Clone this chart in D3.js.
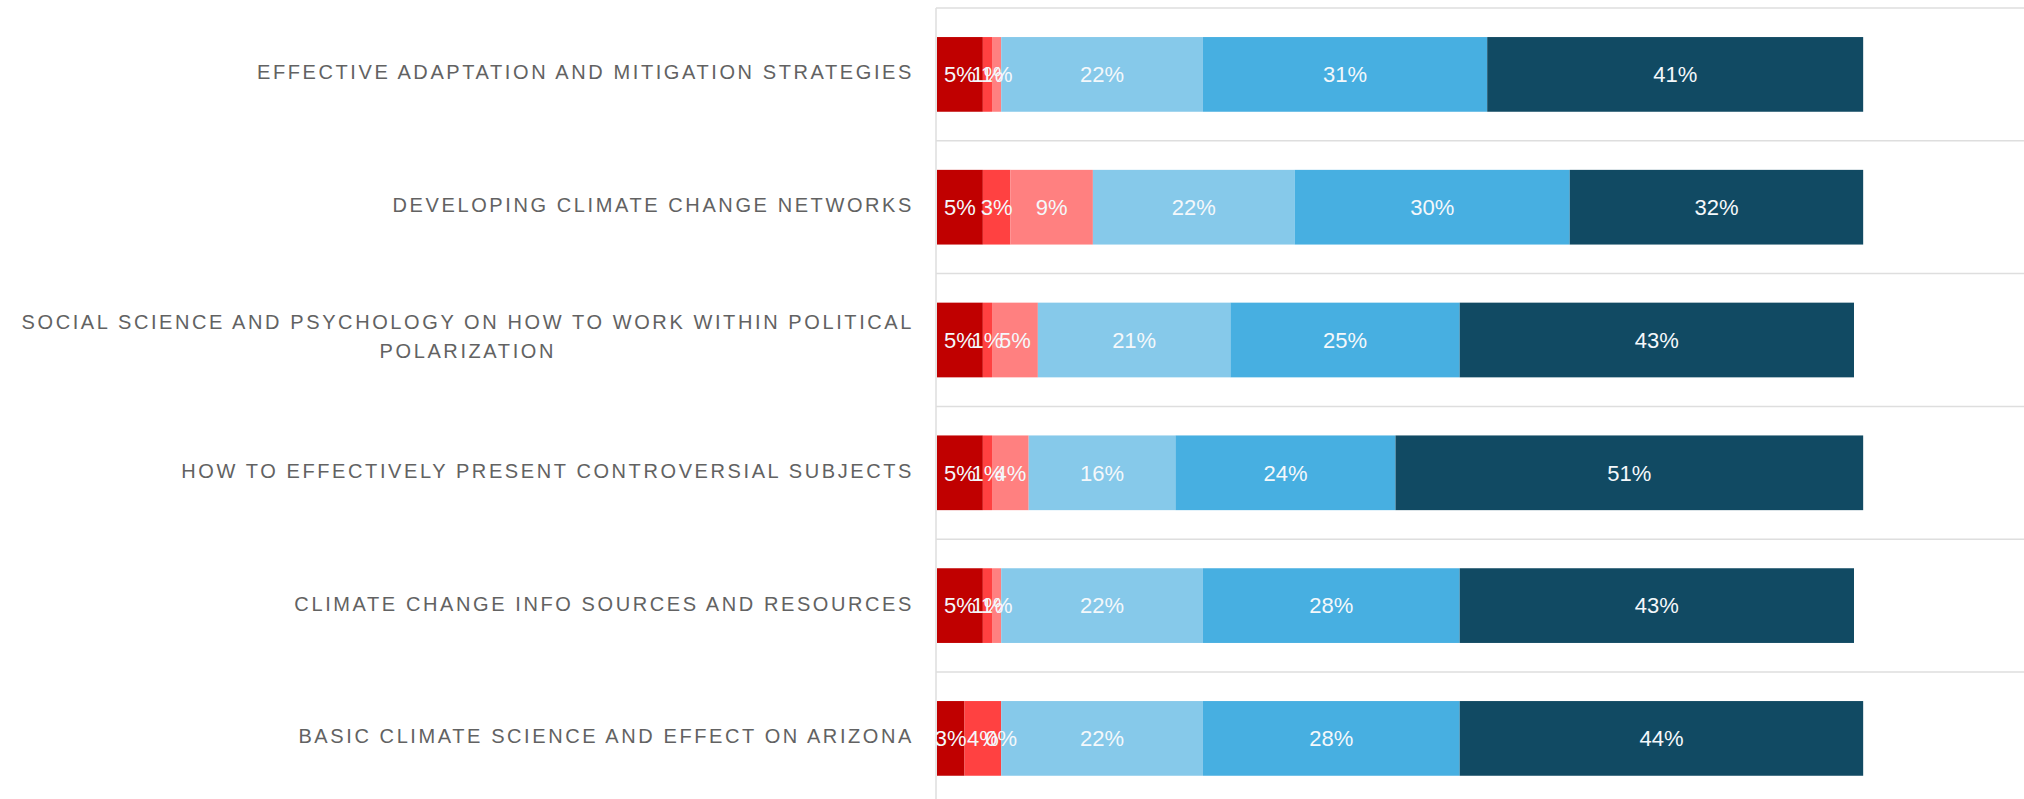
<!DOCTYPE html>
<html>
<head>
<meta charset="utf-8">
<script src="https://cdn.jsdelivr.net/npm/d3@7"></script>
<style>
  html, body { margin: 0; padding: 0; background: #fff; }
  svg { display: block; }
</style>
</head>
<body>
<div id="chart"></div>
<script>
// categories, top to bottom
const categories = [
  "EFFECTIVE ADAPTATION AND MITIGATION STRATEGIES",
  "DEVELOPING CLIMATE CHANGE NETWORKS",
  "SOCIAL SCIENCE AND PSYCHOLOGY ON HOW TO WORK WITHIN POLITICAL POLARIZATION",
  "HOW TO EFFECTIVELY PRESENT CONTROVERSIAL SUBJECTS",
  "CLIMATE CHANGE INFO SOURCES AND RESOURCES",
  "BASIC CLIMATE SCIENCE AND EFFECT ON ARIZONA",
];

// series values (percent), one array per response level
const seriesNames = ["level1", "level2", "level3", "level4", "level5", "level6"];
const level1 = [5, 5, 5, 5, 5, 3];
const level2 = [1, 3, 1, 1, 1, 4];
const level3 = [1, 9, 5, 4, 1, 0];
const level4 = [22, 22, 21, 16, 22, 22];
const level5 = [31, 30, 25, 24, 28, 28];
const level6 = [41, 32, 43, 51, 43, 44];

const colors = ["#c00000", "#ff4141", "#ff8080", "#86c9ea", "#47afe1", "#114a63"];

const width = 2024;
const height = 799;

// build rows for the stack
const levels = [level1, level2, level3, level4, level5, level6];
const rows = categories.map((c, i) => {
  const row = { category: c };
  seriesNames.forEach((s, j) => (row[s] = levels[j][i]));
  return row;
});

const stack = d3.stack().keys(seriesNames);
const stacked = stack(rows);

const svg = d3
  .select("#chart")
  .append("svg")
  .attr("width", width)
  .attr("height", height);

// scales
const plotLeft = 937;
const plotTop = 8;
const rowStep = 132.8;

const x = d3.scaleLinear().domain([0, 100]).range([plotLeft, plotLeft + 917]);

const rowScale = d3
  .scaleBand()
  .domain(categories)
  .range([plotTop, plotTop + rowStep * categories.length]);

const y = d3
  .scaleBand()
  .domain(categories)
  .range([plotTop, plotTop + rowStep * categories.length])
  .paddingInner(0.4375)
  .paddingOuter(0.21875);

// gridlines at row boundaries
const gridYs = categories.map((c) => rowScale(c)).concat([rowScale.range()[1]]);
svg
  .append("g")
  .selectAll("line")
  .data(gridYs)
  .enter()
  .append("line")
  .attr("x1", plotLeft - 1)
  .attr("x2", width)
  .attr("y1", (d) => d)
  .attr("y2", (d) => d)
  .attr("stroke", "#dedede")
  .attr("stroke-width", 1.5);

// left axis line
svg
  .append("line")
  .attr("x1", plotLeft - 1)
  .attr("x2", plotLeft - 1)
  .attr("y1", plotTop)
  .attr("y2", height)
  .attr("stroke", "#dedede")
  .attr("stroke-width", 1.5);

// bars
const layers = svg
  .append("g")
  .selectAll("g")
  .data(stacked)
  .enter()
  .append("g")
  .attr("fill", (d, i) => colors[i]);

layers
  .selectAll("rect")
  .data((d) => d)
  .enter()
  .append("rect")
  .attr("x", (d) => x(d[0]))
  .attr("y", (d) => y(d.data.category))
  .attr("width", (d) => x(d[1]) - x(d[0]))
  .attr("height", y.bandwidth());

// value labels, drawn after every bar (small ones overlap like the original)
const labelG = svg.append("g");
stacked.forEach((layer) => {
  labelG
    .selectAll(null)
    .data(layer)
    .enter()
    .append("text")
    .attr("x", (d) => (x(d[0]) + x(d[1])) / 2)
    .attr("y", (d) => y(d.data.category) + y.bandwidth() / 2)
    .attr("dy", "0.35em")
    .attr("text-anchor", "middle")
    .style("font-family", "'Liberation Sans', Arial, sans-serif")
    .style("font-size", "22px")
    .style("fill", "#f4f8fb")
    .text((d) => `${d[1] - d[0]}%`);
});

// category labels, wrapped and right aligned as a block
const labelRight = 914;
const maxLabelWidth = 940;
const lineHeight = 29;
const labelFont = "20px";
const labelSpacing = "2.6px";

categories.forEach((c) => {
  const g = svg.append("g");
  const probe = g
    .append("text")
    .style("font-family", "'Liberation Sans', Arial, sans-serif")
    .style("font-size", labelFont)
    .style("letter-spacing", labelSpacing);

  // greedy word wrap
  const words = c.split(" ");
  const lines = [];
  let current = [];
  words.forEach((w) => {
    probe.text(current.concat(w).join(" "));
    if (current.length && probe.node().getComputedTextLength() > maxLabelWidth) {
      lines.push(current.join(" "));
      current = [w];
    } else {
      current.push(w);
    }
  });
  lines.push(current.join(" "));

  const widths = lines.map((l) => {
    probe.text(l);
    return probe.node().getComputedTextLength();
  });
  probe.remove();

  const blockWidth = d3.max(widths);
  const cy = rowScale(c) + rowScale.bandwidth() / 2 - 2;

  g.selectAll("text")
    .data(lines)
    .enter()
    .append("text")
    .attr("x", lines.length > 1 ? labelRight - blockWidth / 2 : labelRight)
    .attr("y", (d, i) => cy + (i - (lines.length - 1) / 2) * lineHeight - (lines.length > 1 ? 2 : 0))
    .attr("dy", "0.35em")
    .attr("text-anchor", lines.length > 1 ? "middle" : "end")
    .style("font-family", "'Liberation Sans', Arial, sans-serif")
    .style("font-size", labelFont)
    .style("letter-spacing", labelSpacing)
    .style("fill", "#626262")
    .text((d) => d);
});
</script>
</body>
</html>
